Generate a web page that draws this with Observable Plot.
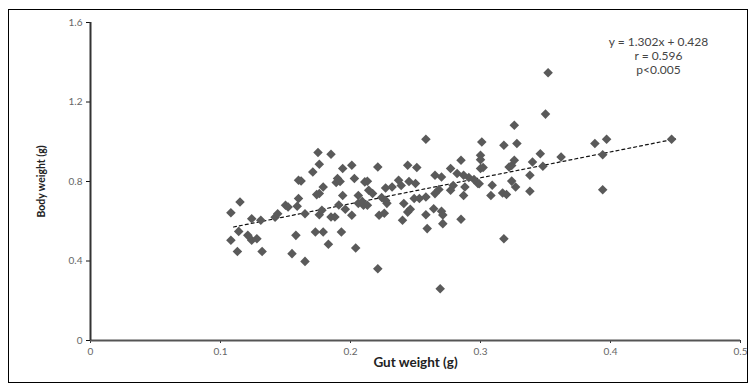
<!DOCTYPE html>
<html><head><meta charset="utf-8">
<script src="https://cdn.jsdelivr.net/npm/d3@7"></script>
<script src="https://cdn.jsdelivr.net/npm/@observablehq/plot@0.6"></script>
<style>
body{margin:0;background:#fff;}
#wrap{position:relative;width:752px;height:390px;overflow:hidden;}
#frame{position:absolute;left:8px;top:9px;width:740px;height:374px;border:1.5px solid #000;box-sizing:border-box;pointer-events:none;}
</style></head><body><div id="wrap"><div id="frame"></div></div>
<script>
const gutWeight = [0.108,0.115,0.108,0.114,0.113,0.121,0.124,0.128,0.124,0.131,0.132,
0.142,0.144,0.150,0.152,0.155,0.158,0.159,0.160,0.160,0.162,0.165,0.165,0.171,
0.173,0.174,0.176,0.175,0.176,0.176,0.178,0.179,0.179,0.183,0.185,0.185,0.188,0.190,0.189,0.192,0.191,0.193,0.194,0.194,0.196,
0.201,0.201,0.203,0.204,0.206,0.206,0.209,0.210,0.211,0.213,0.213,0.214,0.217,0.221,0.221,0.222,0.224,0.226,0.227,0.227,0.228,
0.232,0.237,0.239,0.240,0.241,0.244,0.244,0.245,0.246,0.249,0.251,0.250,0.253,0.258,0.258,0.258,0.259,
0.264,0.265,0.265,0.268,0.270,0.270,0.271,0.269,0.271,0.277,0.277,0.279,0.282,0.285,0.285,0.287,0.287,0.288,0.291,
0.295,0.298,0.300,0.300,0.300,0.301,0.299,0.302,0.309,0.308,0.317,0.320,0.318,0.318,0.322,0.324,0.324,0.326,0.327,0.326,0.328,
0.338,0.338,0.340,0.346,0.348,0.350,0.352,0.362,0.388,0.394,0.397,0.394,0.447];
const bodyWeight = [0.643,0.697,0.504,0.549,0.448,0.529,0.504,0.512,0.613,0.605,0.448,
0.620,0.638,0.680,0.672,0.437,0.529,0.675,0.714,0.806,0.803,0.638,0.398,0.848,
0.546,0.734,0.740,0.946,0.887,0.633,0.655,0.772,0.546,0.484,0.937,0.621,0.621,0.815,0.795,0.800,0.682,0.546,0.865,0.730,0.660,
0.882,0.630,0.815,0.465,0.730,0.690,0.700,0.680,0.798,0.801,0.680,0.756,0.740,0.873,0.361,0.630,0.720,0.640,0.767,0.705,0.690,
0.772,0.806,0.780,0.605,0.689,0.646,0.882,0.800,0.660,0.714,0.870,0.790,0.714,0.722,1.013,0.633,0.563,
0.663,0.831,0.739,0.760,0.823,0.650,0.588,0.260,0.632,0.865,0.756,0.780,0.840,0.907,0.610,0.831,0.730,0.772,0.820,
0.810,0.790,0.932,0.910,0.865,0.999,0.789,0.870,0.781,0.730,0.742,0.735,0.982,0.512,0.873,0.880,0.802,0.907,0.772,1.083,0.991,
0.831,0.751,0.898,0.940,0.877,1.139,1.347,0.923,0.991,0.935,1.013,0.759,1.013];
const trendX = [0.11, 0.45];
const trendY = [0.571, 1.014];
const xTicks = [0, 0.1, 0.2, 0.3, 0.4, 0.5];
const yTicks = [0, 0.4, 0.8, 1.2, 1.6];
const xTitle = "Gut weight (g)";
const yTitle = "Body weight (g)";
const annotation = ["y = 1.302x + 0.428", "r = 0.596", "p<0.005"];

const points = gutWeight.map((g, i) => ({gut: g, body: bodyWeight[i]}));
const trend = trendX.map((x, i) => ({x, y: trendY[i]}));
const fmt = d3.format("~g");

const chart = Plot.plot({
  width: 752, height: 390,
  marginLeft: 90, marginRight: 12, marginTop: 22, marginBottom: 50,
  style: {fontFamily: "Lato, 'Open Sans', sans-serif", fontSize: "10px", background: "transparent", overflow: "visible"},
  x: {domain: [0, 0.5]},
  y: {domain: [0, 1.6]},
  marks: [
    Plot.axisX({ticks: xTicks, tickFormat: fmt, tickSize: 3, tickPadding: 4, label: null, color: "#666", fontSize: 10, stroke: "#333"}),
    Plot.axisY({ticks: yTicks, tickFormat: fmt, tickSize: 4, tickPadding: 4, label: null, color: "#666", fontSize: 10, stroke: "#111"}),
    Plot.ruleY([0], {stroke: "#555", strokeWidth: 2}),
    Plot.ruleX([0], {stroke: "#333", strokeWidth: 2}),
    Plot.line(trend, {x: "x", y: "y", stroke: "#111", strokeWidth: 1.2, strokeDasharray: "3,3"}),
    Plot.dot(points, {x: "gut", y: "body", symbol: "diamond2", r: 4.3, fill: "#5a5a5a", stroke: "none"}),
    Plot.text([xTitle], {frameAnchor: "bottom", dy: 22, lineAnchor: "middle", fontWeight: "bold", fontSize: 13.5, fill: "#222"}),
    Plot.text([yTitle], {frameAnchor: "left", dx: -49, rotate: -90, lineAnchor: "middle", textAnchor: "middle", fontWeight: "bold", fontSize: 10.5, fill: "#222"}),
    Plot.text([annotation.join("\n")], {frameAnchor: "top-right", dx: -82, dy: 14, textAnchor: "middle", lineAnchor: "top", lineHeight: 1.15, fontSize: 12, fill: "#444"})
  ]
});
document.getElementById("wrap").appendChild(chart);
</script>
</body></html>
